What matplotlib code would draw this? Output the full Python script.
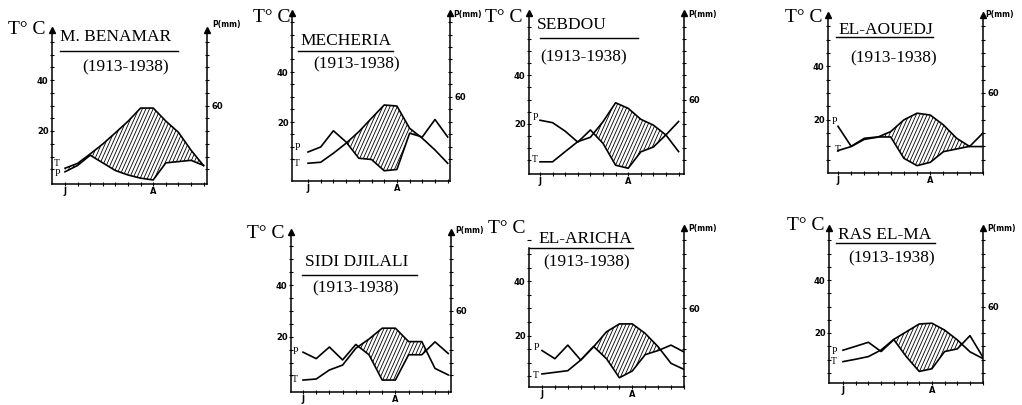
import matplotlib
matplotlib.use('Agg')
import matplotlib.pyplot as plt
from matplotlib.path import Path
from matplotlib.collections import LineCollection
import numpy as np

W, H = 1022, 405
months = ['J', 'F', 'M', 'A', 'M', 'J', 'J', 'A', 'S', 'O', 'N', 'D']
stations = ['M. BENAMAR', 'MECHERIA', 'SEBDOU', 'EL-AOUEDJ',
            'SIDI DJILALI', 'EL-ARICHA', 'RAS EL-MA']
period = '(1913-1938)'

# Mean monthly temperature (deg C) and precipitation (mm)
t_benamar = [5.4, 7.3, 11.0, 14.9, 19.3, 23.8, 29.0, 29.0, 23.9, 19.5, 12.5, 6.4]
p_benamar = [8, 13, 21, 15, 9, 5.5, 3, 1.6, 15, 16, 17, 13]
t_mecheria = [3.5, 3.9, 7.5, 11.5, 16.1, 21.5, 26.8, 26.4, 17.5, 13.5, 8.8, 3.5]
p_mecheria = [16, 20, 33, 24, 11, 10, 1, 2, 31, 28, 42, 28]
t_sebdou = [4.4, 4.4, 8.6, 12.7, 14.5, 20.9, 28.7, 26.4, 21.9, 19.5, 15.4, 8.6]
p_sebdou = [43, 41, 34, 25, 35, 24, 6, 3.5, 17, 21, 31, 42]
t_aouedj = [8.4, 9.9, 12.6, 13.4, 15.5, 19.9, 22.4, 21.7, 18.0, 13.0, 9.9, 9.9]
p_aouedj = [35, 20, 26, 27, 27, 11, 5.5, 8, 16, 18, 20, 30]
t_djilali = [3.2, 3.6, 7.1, 9.0, 15.5, 19.1, 23.3, 23.3, 18.1, 18.1, 7.7, 5.2]
p_djilali = [28, 23, 32, 22, 34, 26, 6.4, 6.4, 26, 26, 36, 27]
t_aricha = [5.9, 6.5, 7.1, 11.0, 15.9, 21.4, 24.3, 24.3, 20.8, 15.9, 9.8, 7.6]
p_aricha = [29, 23, 33, 22, 32, 23, 9, 14, 26, 29, 33, 28]
t_rasma = [9.2, 10.1, 11.1, 13.6, 17.6, 20.5, 23.4, 23.7, 21.1, 17.4, 12.9, 10.4]
p_rasma = [27, 30, 33, 26, 35, 22, 11, 13, 26, 28, 38, 22]

temps = [t_benamar, t_mecheria, t_sebdou, t_aouedj, t_djilali, t_aricha, t_rasma]
precs = [p_benamar, p_mecheria, p_sebdou, p_aouedj, p_djilali, p_aricha, p_rasma]

# layout in pixels: left, right, bottom, top, y of 0degC, px per degC, x of J, px per month
geo = [
    dict(l=52, r=207, b=184, t=30, y0=182, k=2.55, xj=65, dx=12.6),
    dict(l=292, r=450, b=181, t=13, y0=172, k=2.5, xj=308, dx=12.7),
    dict(l=529, r=684, b=174, t=13, y0=172.5, k=2.43, xj=540, dx=12.6),
    dict(l=828, r=983, b=173, t=15, y0=173, k=2.67, xj=838, dx=13.2),
    dict(l=291, r=451, b=392, t=232, y0=388.3, k=2.58, xj=303, dx=13.2),
    dict(l=529, r=684, b=387, t=228, y0=390, k=2.72, xj=542, dx=12.9),
    dict(l=829, r=983, b=383, t=228, y0=386, k=2.65, xj=843, dx=12.7),
]
left_top = [None, None, None, None, None, 248, None]
# text positions (pixels)
tc_pos = [(8, 29), (253, 17), (485, 17), (785, 17), (247, 234), (488, 228), (787, 226)]
name_pos = [(60, 37), (300, 41), (537, 25), (838, 30), (305, 262), (538, 239), (838, 235)]
uline = [(60, 178, 51), (298, 393, 51), (540, 638, 38), (836, 933, 37),
         (302, 417, 275), (529, 633, 248), (836, 935, 243)]
per_pos = [(82, 67), (313, 64), (540, 57), (850, 58), (312, 288), (543, 262), (848, 258)]
pmm_pos = [(212, 25), (453, 15), (688, 15), (985, 15), (455, 230), (688, 228), (987, 228)]
plab = [(57, 174), (297, 147), (535, 117), (834, 122), (295, 351), (536, 348), (834, 351)]
tlab = [(57, 163), (297, 163), (535, 160), (838, 150), (295, 379), (536, 375), (834, 362)]

fig = plt.figure(figsize=(W / 100, H / 100), dpi=100)
fig.patch.set_facecolor('white')

def fx(x):
    return x / W

def fy(y):
    return 1 - y / H

serif = 'Liberation Serif'
x = np.arange(12)

for i in range(7):
    g = geo[i]
    wpx = g['r'] - g['l']
    hpx = g['b'] - g['t']
    ax = fig.add_axes([fx(g['l']), fy(g['b']), wpx / W, hpx / H])
    ylo = -(g['b'] - g['y0']) / g['k']
    yhi = (g['y0'] - g['t']) / g['k']
    xlo = (g['l'] - g['xj']) / g['dx']
    xhi = (g['r'] - g['xj']) / g['dx']
    ax.set_xlim(xlo, xhi)
    ax.set_ylim(ylo, yhi)
    ax2 = ax.twinx()
    ax2.set_ylim(2 * ylo, 2 * yhi)
    for a in (ax, ax2):
        a.patch.set_alpha(0)
        a.spines['top'].set_visible(False)
        for s in a.spines.values():
            s.set_linewidth(1.1)
    ax.spines['right'].set_visible(False)
    ax2.spines['left'].set_visible(False)
    ax2.spines['bottom'].set_visible(False)

    T = np.array(temps[i], float)
    P = np.array(precs[i], float)
    poly = ax2.fill_between(x, P, 2 * T, where=2 * T >= P, interpolate=True,
                            facecolor='none', edgecolor='none', linewidth=0)
    paths = poly.get_paths()
    if paths:
        clip = Path.make_compound_path(*paths)
        ang = np.deg2rad(66)
        run = hpx / np.tan(ang) / wpx
        starts = np.arange(-run - 0.05, 1.05, 3.6 / wpx)
        segs = [[(s0, 0), (s0 + run, 1)] for s0 in starts]
        lc = LineCollection(segs, colors='black', linewidths=0.6, transform=ax2.transAxes)
        ax2.add_collection(lc)
        lc.set_clip_path(clip, ax2.transData)
    ax.plot(x, T, color='black', lw=1.2)
    ax2.plot(x, P, color='black', lw=1.2)

    ax.set_yticks([20, 40])
    ax.set_yticks(np.arange(5, yhi, 5), minor=True)
    ax.set_yticklabels(['20', '40'], fontsize=6, fontweight='bold')
    ax2.set_yticks([60])
    ax2.set_yticks(np.arange(10, 2 * yhi, 10), minor=True)
    ax2.set_yticklabels(['60'], fontsize=6, fontweight='bold')
    ax.set_xticks([0, 7])
    ax.set_xticklabels([months[0], months[7]], fontsize=6, fontweight='bold')
    ax.set_xticks(np.arange(1, 12), minor=True)
    ax.tick_params(axis='both', which='both', direction='inout', length=3, width=0.8, pad=1)
    ax2.tick_params(axis='y', which='both', direction='inout', length=3, width=0.8, pad=2)

    if left_top[i] is None:
        ax.plot([0], [1], marker='^', color='black', ms=4, transform=ax.transAxes, clip_on=False)
    else:
        ax.spines['left'].set_bounds(ylo, (g['y0'] - left_top[i]) / g['k'])
    ax2.plot([1], [1], marker='^', color='black', ms=4, transform=ax2.transAxes, clip_on=False)

    fig.text(fx(tc_pos[i][0]), fy(tc_pos[i][1]), 'T° C', family=serif, fontsize=14,
             ha='left', va='center')
    fig.text(fx(name_pos[i][0]), fy(name_pos[i][1]), stations[i], family=serif, fontsize=12.5,
             ha='left', va='center')
    u = uline[i]
    fig.add_artist(plt.Line2D([fx(u[0]), fx(u[1])], [fy(u[2]), fy(u[2])], color='black', lw=1.0))
    fig.text(fx(per_pos[i][0]), fy(per_pos[i][1]), period, family=serif, fontsize=12.5,
             ha='left', va='center')
    fig.text(fx(pmm_pos[i][0]), fy(pmm_pos[i][1]), 'P(mm)', fontsize=5.5, fontweight='bold',
             ha='left', va='center')
    fig.text(fx(plab[i][0]), fy(plab[i][1]), 'P', family=serif, fontsize=7, ha='center', va='center')
    fig.text(fx(tlab[i][0]), fy(tlab[i][1]), 'T', family=serif, fontsize=7, ha='center', va='center')

fig.savefig('out.png', dpi=100, facecolor='white')
